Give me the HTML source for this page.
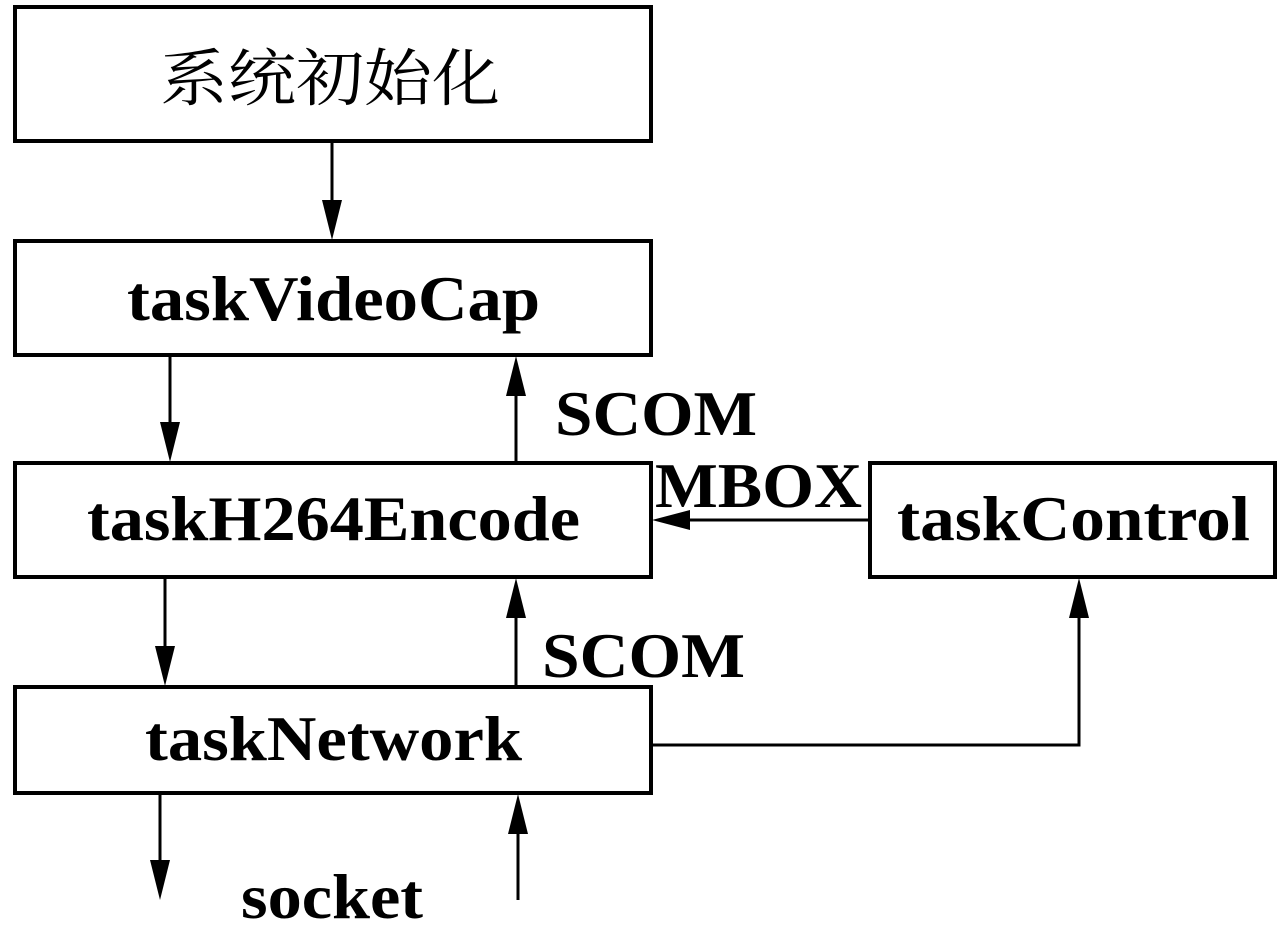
<!DOCTYPE html>
<html><head><meta charset="utf-8"><style>html,body{margin:0;padding:0;background:#fff}</style></head>
<body>
<svg width="1288" height="932" viewBox="0 0 1288 932" xmlns="http://www.w3.org/2000/svg">
<g fill="none" stroke="#000" stroke-width="4">
<rect x="15" y="7" width="636" height="134"/>
<rect x="15" y="241" width="636" height="114"/>
<rect x="15" y="463" width="636" height="114"/>
<rect x="870" y="463" width="405" height="114"/>
<rect x="15" y="687" width="636" height="106"/>
</g>
<g stroke="#000" stroke-width="3" fill="none">
<line x1="332" y1="142" x2="332" y2="205"/>
<line x1="170" y1="356" x2="170" y2="425"/>
<line x1="516" y1="462" x2="516" y2="390"/>
<line x1="870" y1="520" x2="685" y2="520"/>
<line x1="165" y1="578" x2="165" y2="650"/>
<line x1="516" y1="686" x2="516" y2="612"/>
<polyline points="651,745 1079,745 1079,612"/>
<line x1="160" y1="794" x2="160" y2="865"/>
<line x1="518" y1="900" x2="518" y2="830"/>
</g>
<g fill="#000">
<polygon points="322,200 342,200 332,240"/>
<polygon points="160,422 180,422 170,462"/>
<polygon points="506,396 526,396 516,356"/>
<polygon points="690,510 690,530 652,520"/>
<polygon points="155,646 175,646 165,686"/>
<polygon points="506,618 526,618 516,578"/>
<polygon points="1069,618 1089,618 1079,578"/>
<polygon points="150,860 170,860 160,900"/>
<polygon points="508,834 528,834 518,794"/>
</g>
<g font-family="'Liberation Serif','Noto Serif CJK SC',serif" font-weight="bold" fill="#000" font-size="64">
<text x="160" y="100" font-weight="normal" font-family="'Noto Serif CJK SC','Noto Sans CJK SC',serif" font-size="62" textLength="340" lengthAdjust="spacingAndGlyphs">系统初始化</text>
<text x="127" y="320" textLength="413" lengthAdjust="spacingAndGlyphs">taskVideoCap</text>
<text x="87" y="540" textLength="493" lengthAdjust="spacingAndGlyphs">taskH264Encode</text>
<text x="897" y="540" textLength="353" lengthAdjust="spacingAndGlyphs">taskControl</text>
<text x="145" y="760" textLength="377" lengthAdjust="spacingAndGlyphs">taskNetwork</text>
<text x="555" y="435" textLength="202" lengthAdjust="spacingAndGlyphs">SCOM</text>
<text x="655" y="507" textLength="207" lengthAdjust="spacingAndGlyphs">MBOX</text>
<text x="542" y="677" textLength="203" lengthAdjust="spacingAndGlyphs">SCOM</text>
<text x="241" y="918" textLength="182" lengthAdjust="spacingAndGlyphs">socket</text>
</g>
</svg>
</body></html>
